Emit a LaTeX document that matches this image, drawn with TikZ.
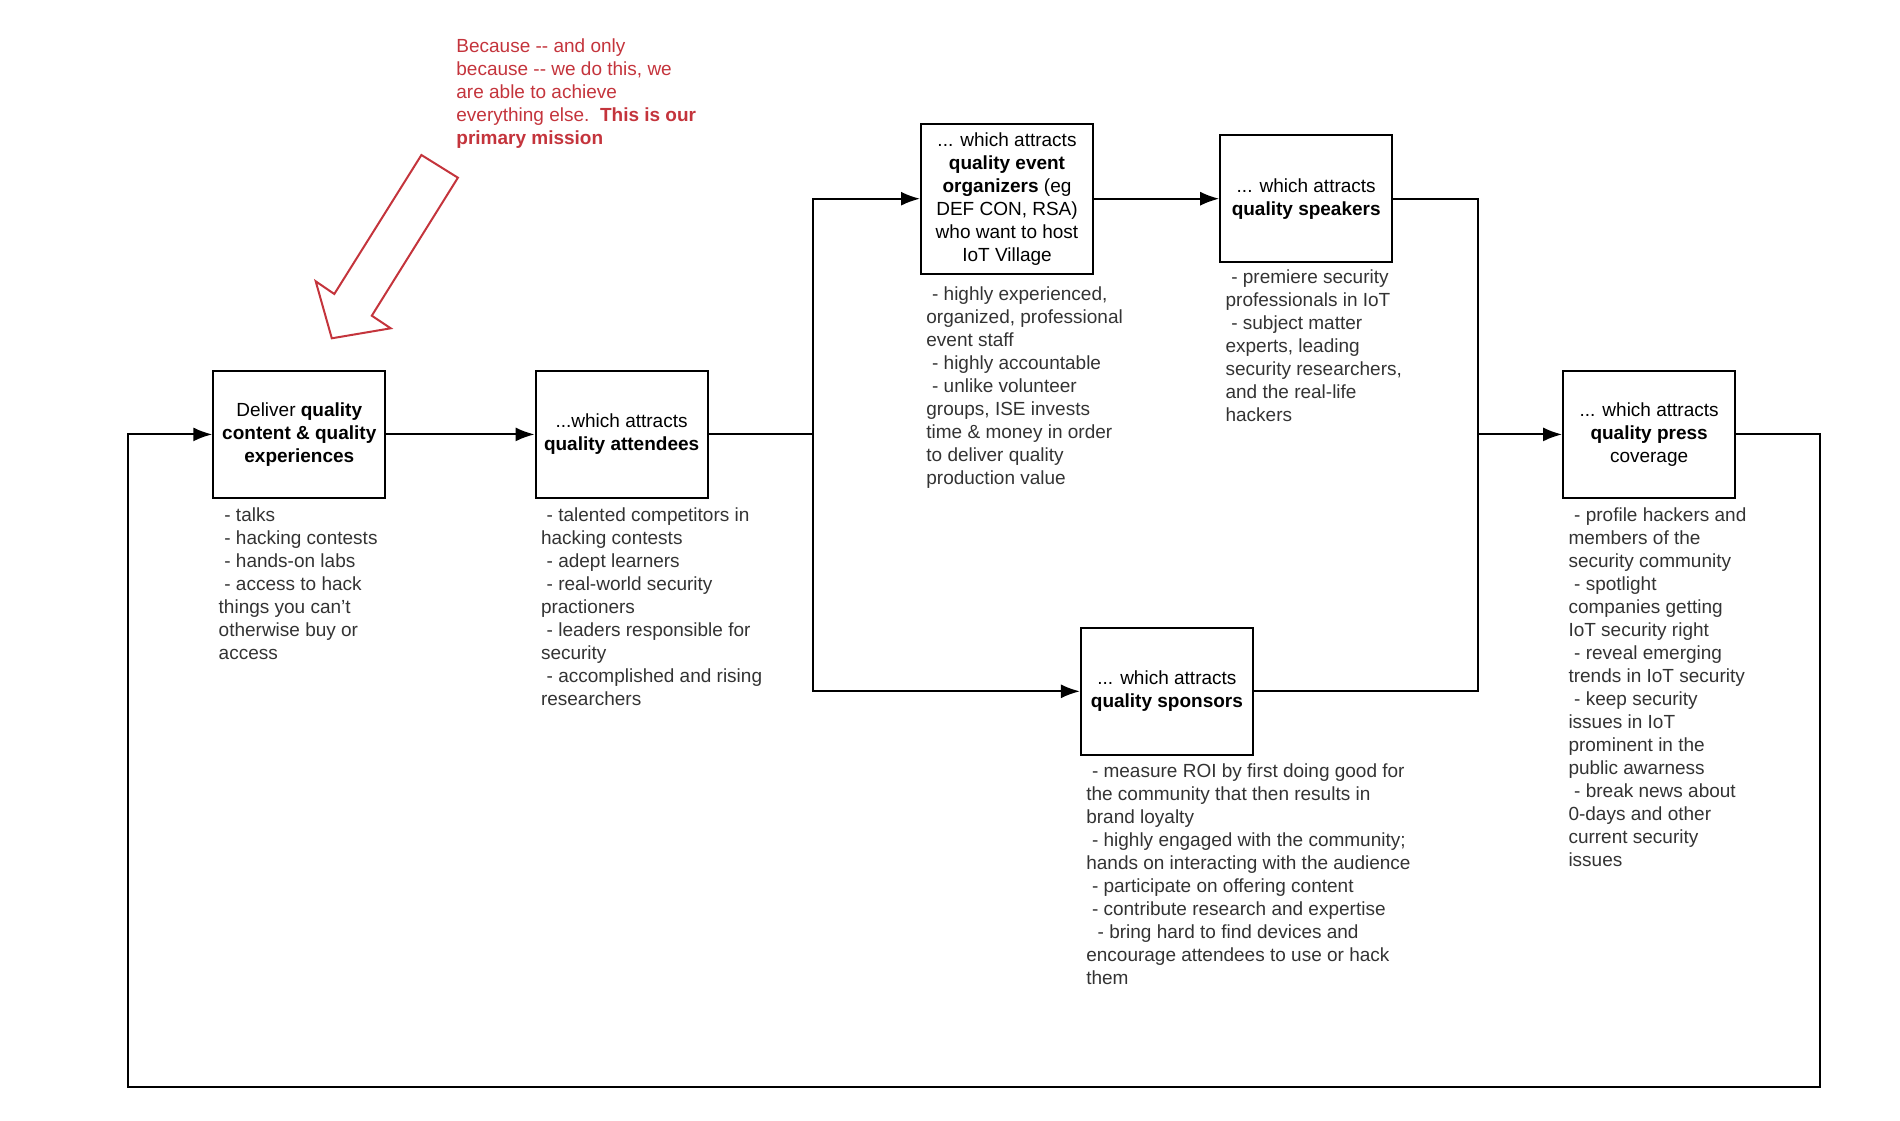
\documentclass[tikz,border=0pt]{standalone}
\usepackage{fontspec}
\setmainfont{Liberation Sans}
\usetikzlibrary{positioning,arrows.meta}
\definecolor{missionred}{RGB}{196,52,60}
\definecolor{notegray}{RGB}{51,51,51}
\newcommand{\itemdash}{\hspace*{0.3em}-\ }
\begin{document}
\begin{tikzpicture}[
  x=0.5pt, y=-0.5pt,
  font=\fontsize{9.5}{11.5}\selectfont,
  stage/.style={draw,line width=1pt,minimum width=86pt,minimum height=63.5pt,
    align=center,inner sep=2pt},
  notes/.style={align=left,inner sep=0pt,text=notegray},
  flow/.style={draw,line width=1pt,-{Latex[length=9.5pt,width=7pt]}},
  link/.style={draw,line width=1pt},
  mission/.style={draw=missionred,line width=1pt,line join=miter}]
\useasboundingbox (0,0) rectangle (1900,1120);
\node[stage] (deliver) at (299.3,434.4)
  {Deliver \textbf{quality}\\ \textbf{content \& quality}\\ \textbf{experiences}};
\node[stage] (attendees) at (621.6,434.4)
  {...which attracts\\ \textbf{quality attendees}};
\node[stage,minimum height=75pt] (organizers) at (1007,198.7)
  {... which attracts\\ \textbf{quality event}\\ \textbf{organizers} (eg\\ DEF CON, RSA)\\ who want to host\\ IoT Village};
\node[stage] (speakers) at (1306.2,198.7)
  {... which attracts\\ \textbf{quality speakers}};
\node[stage] (sponsors) at (1166.9,691.3)
  {... which attracts\\ \textbf{quality sponsors}};
\node[stage] (press) at (1649.1,434.4)
  {... which attracts\\ \textbf{quality press}\\ coverage};
\node[notes,below right=4pt and 3pt of deliver.south west] (deliver-notes)
  {\itemdash talks\\ \itemdash hacking contests\\ \itemdash hands-on labs\\
   \itemdash access to hack\\ things you can{\char"0027}t\\ otherwise buy or\\ access};
\node[notes,below right=4pt and 3pt of attendees.south west] (attendees-notes)
  {\itemdash talented competitors in\\ hacking contests\\ \itemdash adept learners\\
   \itemdash real-world security\\ practioners\\ \itemdash leaders responsible for\\
   security\\ \itemdash accomplished and rising\\ researchers};
\node[notes,below right=6pt and 3pt of organizers.south west] (organizers-notes)
  {\itemdash highly experienced,\\ organized, professional\\ event staff\\
   \itemdash highly accountable\\ \itemdash unlike volunteer\\ groups, ISE invests\\
   time \& money in order\\ to deliver quality\\ production value};
\node[notes,below right=3pt and 3pt of speakers.south west] (speakers-notes)
  {\itemdash premiere security\\ professionals in IoT\\ \itemdash subject matter\\
   experts, leading\\ security researchers,\\ and the real-life\\ hackers};
\node[notes,below right=4pt and 3pt of sponsors.south west] (sponsors-notes)
  {\itemdash measure ROI by first doing good for\\ the community that then results in\\
   brand loyalty\\ \itemdash highly engaged with the community;\\
   hands on interacting with the audience\\ \itemdash participate on offering content\\
   \itemdash contribute research and expertise\\
   \hspace*{0.3em}\itemdash bring hard to find devices and\\
   encourage attendees to use or hack\\ them};
\node[notes,below right=4pt and 3pt of press.south west] (press-notes)
  {\itemdash profile hackers and\\ members of the\\ security community\\
   \itemdash spotlight\\ companies getting\\ IoT security right\\
   \itemdash reveal emerging\\ trends in IoT security\\ \itemdash keep security\\
   issues in IoT\\ prominent in the\\ public awarness\\ \itemdash break news about\\
   0-days and other\\ current security\\ issues};
\node[notes,anchor=north west,text=missionred] (mission-text) at (456,38)
  {Because -{}- and only\\ because -{}- we do this, we\\ are able to achieve\\
   everything else.\ \ \textbf{This is our}\\ \textbf{primary mission}};
\coordinate (split) at (813,434.4);
\coordinate (merge) at (1478.3,434.4);
\coordinate (loop-r) at (1820,1087);
\coordinate (loop-l) at (128.4,1087);
\draw[flow] (deliver) -- (attendees);
\draw[link] (attendees) -- (split);
\draw[flow] (split) |- (organizers);
\draw[flow] (split) |- (sponsors);
\draw[flow] (organizers) -- (speakers);
\draw[link] (speakers.east) -| (merge);
\draw[link] (sponsors.east) -| (merge);
\draw[flow] (merge) -- (press);
\draw[flow] (press.east) -| (loop-r) -- (loop-l) |- (deliver.west);
\draw[mission] (421.4,155) -- (457.9,177.7) -- (371.8,315.7) -- (390.7,328.3)
  -- (331.8,338.3) -- (315.7,281.3) -- (334.3,294) -- cycle;
\end{tikzpicture}
\end{document}
